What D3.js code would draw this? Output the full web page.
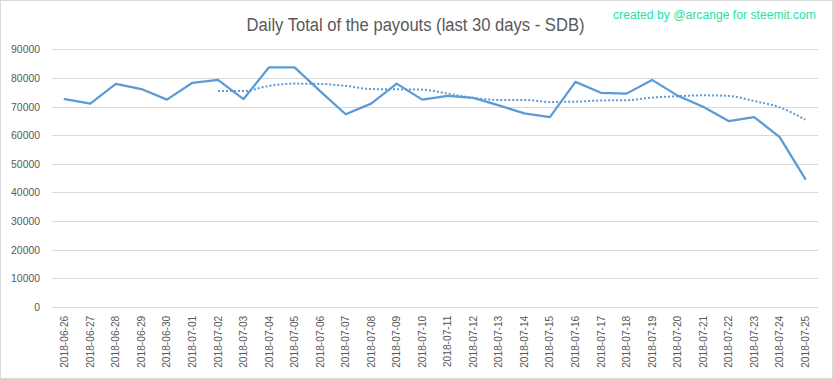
<!DOCTYPE html>
<html><head><meta charset="utf-8">
<script src="https://cdnjs.cloudflare.com/ajax/libs/d3/7.8.5/d3.min.js"></script>
<style>html,body{margin:0;padding:0;background:#fff;}svg{display:block;}</style>
</head><body>
<svg id="chart" width="833" height="379"></svg>
<script>
const dates = ["2018-06-26","2018-06-27","2018-06-28","2018-06-29","2018-06-30","2018-07-01","2018-07-02","2018-07-03","2018-07-04","2018-07-05","2018-07-06","2018-07-07","2018-07-08","2018-07-09","2018-07-10","2018-07-11","2018-07-12","2018-07-13","2018-07-14","2018-07-15","2018-07-16","2018-07-17","2018-07-18","2018-07-19","2018-07-20","2018-07-21","2018-07-22","2018-07-23","2018-07-24","2018-07-25"];
const payouts = [72600,71000,77900,76100,72400,78300,79300,72600,83700,83700,75400,67300,71000,78000,72400,73700,73000,70400,67600,66300,78600,74800,74500,79300,73800,69900,64900,66300,59300,44700];
const trend = [null,null,null,null,null,null,75400,75400,77200,78000,77900,77200,76100,76000,75900,74500,73000,72300,72300,71600,71700,72100,72200,73100,73600,73900,73700,71900,69700,65400];
const yTicks = [0,10000,20000,30000,40000,50000,60000,70000,80000,90000];
const titleText = "Daily Total of the payouts (last 30 days - SDB)";
const creditText = "created by @arcange for steemit.com";

const svg = d3.select("#chart");
const W = 833, H = 379;
const m = {left: 52, right: 15, top: 49.3, bottom: 72.3};

svg.append("rect").attr("x",0.5).attr("y",0.5).attr("width",W-1).attr("height",H-1)
  .attr("fill","#fff").attr("stroke","#D9D9D9");

const x = d3.scaleBand().domain(dates).range([m.left, W - m.right]);
const y = d3.scaleLinear().domain([0, 90000]).range([H - m.bottom, m.top]);

// gridlines
svg.append("g").selectAll("line").data(yTicks).join("line")
  .attr("x1", m.left).attr("x2", W - m.right)
  .attr("y1", d => Math.round(y(d)) + 0.5).attr("y2", d => Math.round(y(d)) + 0.5)
  .attr("stroke", "#D9D9D9").attr("stroke-width", 1);

// y axis labels
const yAxis = d3.axisLeft(y).tickValues(yTicks).tickSize(0).tickPadding(0).tickFormat(d3.format("d"));
const gy = svg.append("g").attr("transform", `translate(${m.left - 12},0)`).call(yAxis);
gy.select(".domain").remove();
gy.selectAll("text").attr("fill", "#595959").style("font-family", "'Liberation Sans', Arial, sans-serif").style("font-size", "10.4px").attr("dy","0.35em");

// x axis labels
const xAxis = d3.axisBottom(x).tickSize(0).tickPadding(0);
const gx = svg.append("g").attr("transform", `translate(0,${H - m.bottom})`).call(xAxis);
gx.select(".domain").remove();
gx.selectAll("text")
  .attr("fill", "#595959").style("font-family", "'Liberation Sans', Arial, sans-serif").style("font-size", "10.2px")
  .attr("text-anchor", "end").attr("transform", "rotate(-90)")
  .attr("x", -9).attr("y", 0).attr("dy", "0.35em");

// main line
const line = d3.line().x((d, i) => x(dates[i]) + x.bandwidth() / 2).y(d => y(d));
svg.append("path").datum(payouts).attr("d", line)
  .attr("fill", "none").attr("stroke", "#5B9BD5").attr("stroke-width", 2.25)
  .attr("stroke-linejoin", "round").attr("stroke-linecap", "round");

// trend (moving average) dotted line
const tline = d3.line().defined(d => d !== null)
  .x((d, i) => x(dates[i]) + x.bandwidth() / 2).y(d => y(d)).curve(d3.curveMonotoneX);
svg.append("path").datum(trend).attr("d", tline)
  .attr("fill", "none").attr("stroke", "#5B9BD5").attr("stroke-width", 2)
  .attr("stroke-dasharray", "2,2");

// title
svg.append("text").attr("x", 415.5).attr("y", 31).attr("text-anchor", "middle")
  .attr("fill", "#595959").style("font-family", "'Liberation Sans', Arial, sans-serif").style("font-size", "18px")
  .attr("textLength", 338).attr("lengthAdjust", "spacingAndGlyphs")
  .text(titleText);

// credit
svg.append("text").attr("x", 816).attr("y", 18.5).attr("text-anchor", "end")
  .attr("fill", "#1DE2A8").style("font-family", "'Liberation Sans', Arial, sans-serif").style("font-size", "12px")
  .attr("textLength", 203).attr("lengthAdjust", "spacingAndGlyphs")
  .text(creditText);
</script>
</body></html>
